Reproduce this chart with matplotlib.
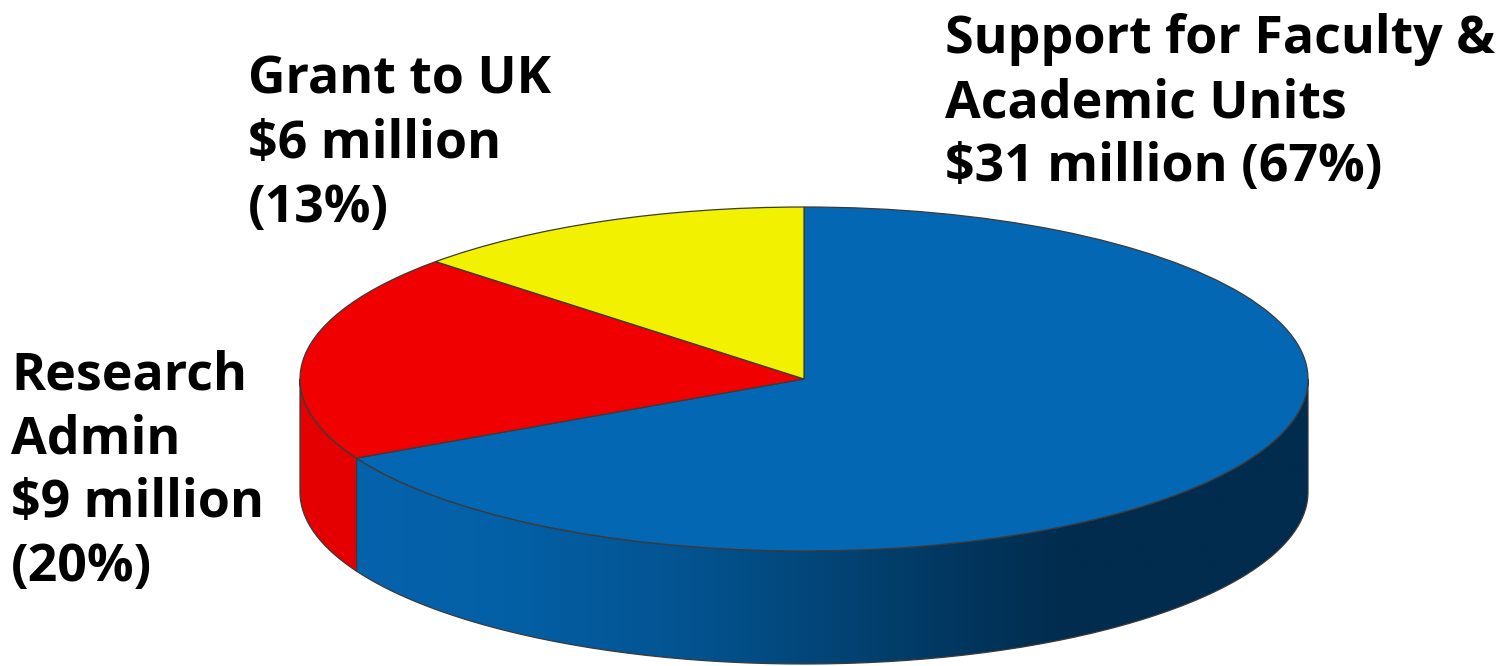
import numpy as np
import matplotlib
matplotlib.use('Agg')
import matplotlib.pyplot as plt
from matplotlib.colors import LinearSegmentedColormap
from matplotlib.patches import PathPatch
from matplotlib.path import Path

# Budget in $ million, clockwise from twelve o'clock
millions = [31, 9, 6]
top_colors = ['#0467b4', '#f00000', '#f2f200']
side_colors = [None, '#e40000', '#d8d800']

label_lines = [
    ['Support for Faculty &', 'Academic Units', '$31 million (67%)'],
    ['Research', 'Admin', '$9 million', '(20%)'],
    ['Grant to UK', '$6 million', '(13%)'],
]
label_x = [945, 11, 248]
label_y = [53, 389, 94]
line_step = 64

# Horizontal shading of the blue wall
wall_stops = [(0.0, '#0563ae'), (0.2, '#0460a6'), (0.4, '#03528e'),
              (0.6, '#023c68'), (0.76, '#012c4e'), (1.0, '#012c4e')]
wall_cmap = LinearSegmentedColormap.from_list('wall', wall_stops)

W, H = 1501, 666
cx, cy = 804, 379
rx, ry = 504, 172
depth = 113 / ry

fig = plt.figure(figsize=(W / 100, H / 100), dpi=100)
ax = fig.add_axes([0, 0, 1, 1])

wedges, _ = ax.pie(millions, colors=top_colors, startangle=90, counterclock=False,
                   wedgeprops={'edgecolor': '#3a3a3a', 'linewidth': 0.9, 'zorder': 3})
ax.set_aspect('auto')
xlim = (-cx / rx, (W - cx) / rx)
ylim = ((cy - H) / ry, cy / ry)


def wall_path(start, end):
    # start and end are degrees clockwise from the top of the pie
    t = np.radians(np.linspace(start, end, 200))
    x, y = np.sin(t), np.cos(t)
    xs = np.concatenate([x, x[::-1], x[:1]])
    ys = np.concatenate([y, y[::-1] - depth, y[:1]])
    return Path(np.column_stack([xs, ys]))


edges = np.cumsum([0] + millions) / sum(millions) * 360
for i in range(len(millions)):
    # only the part of a slice facing the viewer has a wall
    start, end = max(edges[i], 90), min(edges[i + 1], 270)
    if start >= end:
        continue
    outline = PathPatch(wall_path(start, end), facecolor=side_colors[i] or 'none',
                        edgecolor='#3a3a3a', linewidth=0.9, zorder=2)
    ax.add_patch(outline)
    if side_colors[i] is None:
        im = ax.imshow(np.linspace(0, 1, 512)[None, :], cmap=wall_cmap, aspect='auto',
                       extent=(-1, 1, -1 - depth, 1), zorder=1.5)
        im.set_clip_path(outline)

ax.set_xlim(xlim)
ax.set_ylim(ylim)
ax.axis('off')

for lines, x, y in zip(label_lines, label_x, label_y):
    for n, line in enumerate(lines):
        fig.text(x / W, 1 - (y + n * line_step) / H, line, family='Open Sans',
                 fontweight='bold', fontsize=37.4, color='black', va='baseline', ha='left')

fig.savefig('out.png', dpi=100)
